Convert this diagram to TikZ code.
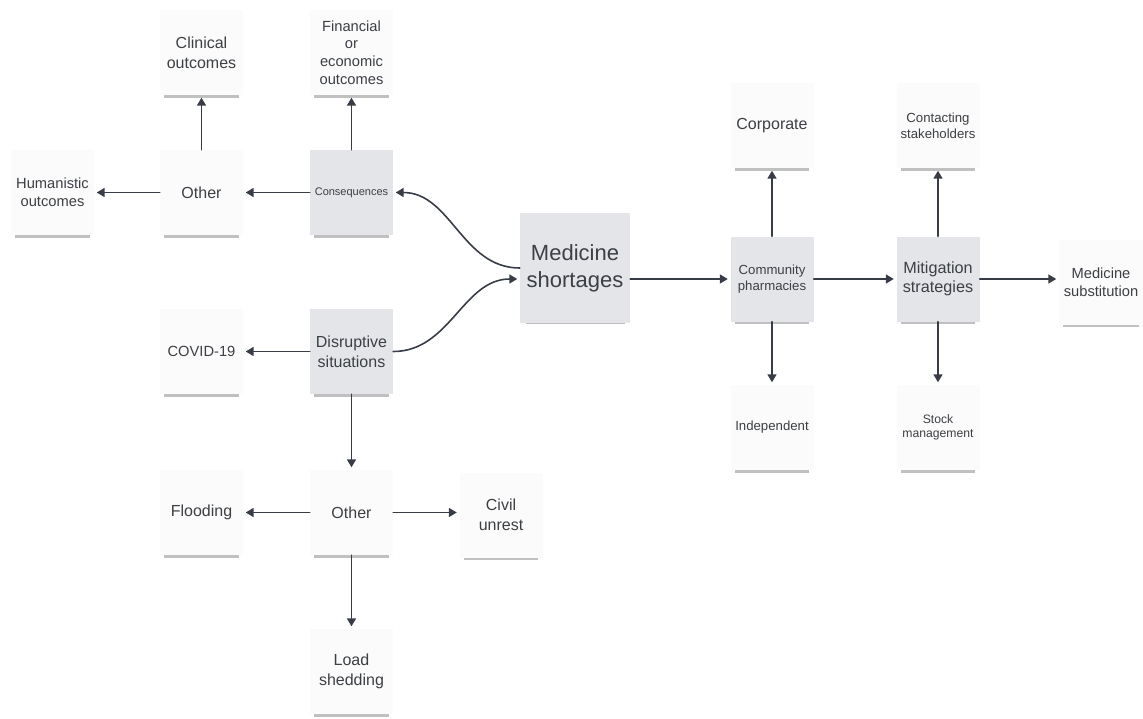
\documentclass[tikz,border=0pt]{standalone}
\usepackage{fontspec}
\setmainfont{Liberation Sans}
\usetikzlibrary{
    arrows.meta,
    shadows,
    positioning
}

\begin{document}
\begin{tikzpicture}
    [x=1pt,y=-1pt,line cap=round,
    % Styles
    note/.style={rectangle,fill=notewhite,text=notetext,align=center,
        minimum width=83pt,minimum height=85pt,inner sep=2pt,
        drop shadow={shadow xshift=0pt,shadow yshift=-7.5pt,shadow scale=0.9,
            fill=black!45,opacity=.55}},
    key note/.style={note,fill=notegray},
    big text/.style={font=\fontsize{16}{20}\selectfont},
    mid text/.style={font=\fontsize{14.7}{17.7}\selectfont},
    small text/.style={font=\fontsize{13.2}{15.8}\selectfont},
    tiny text/.style={font=\fontsize{11}{13}\selectfont},
    link/.style={draw=linkcolor,line width=1.6pt,
        -{Triangle[length=8pt,width=9pt]},shorten >=2.5pt}]

    % Colors
    \definecolor{notetext}{RGB}{60,63,68}
    \definecolor{linkcolor}{RGB}{55,60,70}
    \definecolor{notegray}{RGB}{228,229,232}
    \definecolor{notewhite}{RGB}{251,251,251}

    \useasboundingbox (0,0) rectangle (1143,718);

    % left part: consequences
    \node[note,big text] (clinical) at (201.5,52.5) {Clinical\\outcomes};
    \node[note,mid text] (financial) at (351.5,52.5) {Financial\\or\\economic\\outcomes};
    \node[note,mid text] (humanistic) at (52.5,192.5) {Humanistic\\outcomes};
    \node[note,big text] (other top) at (201.5,192.5) {Other};
    \node[key note,tiny text] (consequences) at (351.5,192.5) {Consequences};

    % left part: disruptive situations
    \node[note,mid text] (covid) at (201.5,351.5) {COVID-19};
    \node[key note,big text] (disruptive) at (351.5,351.5) {Disruptive\\situations};
    \node[note,big text] (flooding) at (201.5,512.5) {Flooding};
    \node[note,big text] (other low) at (351.5,512.5) {Other};
    \node[note,big text] (unrest) at (501,515) {Civil\\unrest};
    \node[note,big text] (loadshed) at (351.5,671.5) {Load\\shedding};

    % centre
    \node[key note,font=\fontsize{22}{27}\selectfont,
        minimum width=110pt,minimum height=110pt] (shortages) at (575,268) {Medicine\\shortages};

    % right part
    \node[key note,small text] (community) at (772,279) {Community\\pharmacies};
    \node[note,big text] (corporate) at (772,125.5) {Corporate};
    \node[note,small text] (independent) at (772,427.5) {Independent};
    \node[key note,font=\fontsize{16.2}{19.5}\selectfont] (mitigation) at (938,279) {Mitigation\\strategies};
    \node[note,small text] (contacting) at (938,125.5) {Contacting\\stakeholders};
    \node[note,font=\fontsize{12.2}{14.5}\selectfont] (stock) at (938,427.5) {Stock\\management};
    \node[note,mid text,minimum width=84pt] (substitution) at (1101,282) {Medicine\\substitution};

    % connectors
    \draw[link] (consequences) -- (other top);
    \draw[link] (consequences) -- (financial);
    \draw[link] (other top) -- (clinical);
    \draw[link] (other top) -- (humanistic);
    \draw[link] (shortages.west) to[out=180,in=0] (consequences.east);

    \draw[link] (disruptive.east) to[out=0,in=180] (shortages.west |- community);
    \draw[link] (disruptive) -- (covid);
    \draw[link] (disruptive) -- (other low);
    \draw[link] (other low) -- (flooding);
    \draw[link] (other low.east) -- (other low -| unrest.west);
    \draw[link] (other low) -- (loadshed);

    \draw[link] (shortages.east |- community) -- (community.west);
    \draw[link] (community) -- (corporate);
    \draw[link] (community) -- (independent);
    \draw[link] (community) -- (mitigation);
    \draw[link] (mitigation) -- (contacting);
    \draw[link] (mitigation) -- (stock);
    \draw[link] (mitigation.east) -- (mitigation -| substitution.west);
\end{tikzpicture}
\end{document}
